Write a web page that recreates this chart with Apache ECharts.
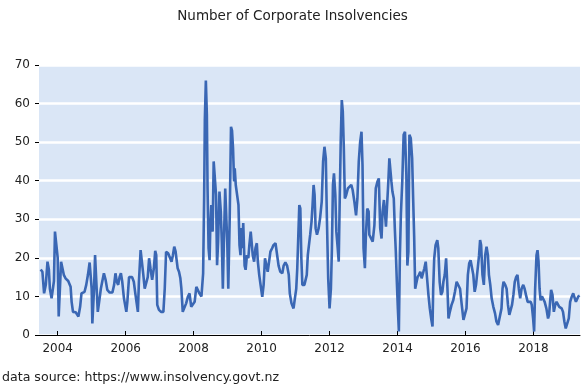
<!DOCTYPE html>
<html>
<head>
<meta charset="utf-8">
<script src="https://cdn.jsdelivr.net/npm/echarts@6/dist/echarts.min.js"></script>
<style>html,body{margin:0;padding:0;background:#fff}#c{width:585px;height:387px}</style>
</head>
<body>
<div id="c"></div>
<script>
var seg1Years = [2003.50,2003.55,2003.60,2003.65,2003.70,2003.74,2003.77,2003.82,2003.86,2003.89,
2003.92,2003.96,2004.00,2004.03,2004.06,2004.10,2004.14,2004.18,2004.23,2004.31,
2004.38,2004.41,2004.45,2004.53,2004.61,2004.66,2004.70,2004.74,2004.79,2004.84,
2004.89,2004.94,2004.97,2005.00,2005.02,2005.05,2005.07,2005.10,2005.13,2005.16,
2005.18,2005.22,2005.27,2005.31,2005.36,2005.41,2005.46,2005.53,2005.61,2005.66,
2005.70,2005.74,2005.78,2005.82,2005.86,2005.90,2005.95,2006.02,2006.05,2006.10,
2006.19,2006.24,2006.29,2006.36,2006.39,2006.44,2006.48,2006.52,2006.56,2006.60,
2006.65,2006.69,2006.73,2006.78,2006.83,2006.87,2006.90,2006.93,2006.98,2007.04,
2007.11,2007.15,2007.19,2007.25,2007.30,2007.35,2007.39,2007.43];
var seg1Counts = [17,16.4,10.8,13,19,17,12,9.5,9,14,
26.8,27,20,4.8,5,19,18.6,15.6,14.7,14,
12.5,8.6,6,5.9,4.8,7.3,10.8,10.4,11.2,13,
15.6,18.8,18.6,12,3,3,12,20.7,20.7,9.5,
6,8.6,12,13.8,16,14.3,11.7,11,11,13,
16,13.8,13,15,16,13.8,9.5,6,8.6,15,
15,13.8,10.4,6,13.8,22,21.6,15.6,12,12,
15,19.9,17.3,14.3,17.3,21.8,20.7,7.8,6.5,6,
6,12,21.6,21.2,20.7,19,20.7,22.9];

var seg2Years = [2007.47,2007.50,2007.53,2007.57,2007.61,2007.64,2007.68,2007.73,2007.78,2007.83,
2007.88,2007.93,2007.98,2008.03,2008.08,2008.12,2008.17,2008.23,2008.28,2008.31,
2008.33,2008.36,2008.39,2008.41,2008.44,2008.47,2008.49,2008.52,2008.56,2008.59,
2008.63,2008.66,2008.69,2008.72,2008.76,2008.80,2008.83,2008.86,2008.89,2008.93,
2008.96,2008.99,2009.02,2009.06,2009.10,2009.13,2009.16,2009.19,2009.21,2009.24,
2009.29,2009.32,2009.35,2009.38,2009.40,2009.43,2009.46,2009.50,2009.53,2009.57,
2009.61,2009.64,2009.68,2009.71,2009.74,2009.78,2009.82,2009.86,2009.89,2009.93,
2009.97,2010.02,2010.06,2010.10,2010.14,2010.18,2010.22,2010.26,2010.31,2010.35,
2010.41,2010.46,2010.50,2010.55,2010.61,2010.65,2010.70,2010.75,2010.80,2010.83,
2010.88,2010.94,2010.98,2011.02,2011.05,2011.08,2011.11,2011.14,2011.17,2011.20,
2011.26,2011.30,2011.33,2011.36];
var seg2Counts = [21.6,19.4,17.3,16.4,14.7,12,6,6.5,8.2,9.9,
10.8,7.3,7.3,8.6,12.5,13,10.8,10,16,35.9,
55.7,66,57,38,22.5,19.4,27.7,33.7,26.8,45,
45,36.3,18.1,24,37.2,32,24,12,24,38,
38,24,12,29.4,54,53,48.4,39.8,43.2,38.9,
38.9,33.7,23.3,20.7,27.7,22.5,29,18,16.9,20.7,
19.9,23.3,26.8,26.8,20.7,19,22.5,23.8,19,15.6,
13,9.9,13,19.9,19.9,16.4,16.4,21.6,22.5,23.3,
23.8,23.8,18,16.4,16,18,18.8,18,15.6,10.8,
8.2,6.9,9.5,12,17.3,25.5,33.7,32.8,19.9,13,
13,13,15.6,20.7];

var seg3Years = [2011.43,2011.47,2011.50,2011.53,2011.56,2011.59,2011.63,2011.68,2011.72,2011.77,
2011.81,2011.85,2011.89,2011.92,2011.96,2012.00,2012.04,2012.07,2012.10,2012.13,
2012.17,2012.20,2012.24,2012.27,2012.30,2012.33,2012.36,2012.39,2012.42,2012.45,
2012.49,2012.54,2012.59,2012.64,2012.68,2012.73,2012.78,2012.82,2012.86,2012.90,
2012.94,2012.97,2013.00,2013.04,2013.07,2013.11,2013.15,2013.17,2013.22,2013.27,
2013.32,2013.36,2013.41,2013.45,2013.49,2013.53,2013.56,2013.60,2013.63,2013.66,
2013.70,2013.73,2013.76,2013.79,2013.82,2013.85,2013.89,2013.92,2013.95,2013.98,
2014.01,2014.04,2014.07,2014.10,2014.14,2014.18,2014.22,2014.26,2014.29,2014.32,
2014.35,2014.39,2014.43,2014.46,2014.49,2014.52,2014.56,2014.59,2014.63,2014.67,
2014.71,2014.75,2014.79,2014.83,2014.87,2014.91,2014.95,2014.99,2015.03,2015.05,
2015.08,2015.12,2015.17,2015.20,2015.24,2015.28,2015.32];
var seg3Counts = [26,29.4,33.7,38.9,36.3,27.7,26,27.7,30.2,34.6,
45,48.8,45.8,31,14.7,6.9,12,22.5,38.9,41.9,
36.3,26.8,22.5,19,35.4,50.6,60.9,57.9,48.4,35.4,
36.3,38,38.5,38.9,37.6,34.6,31,35.4,45,50,
52.7,44,22.5,17.3,26,32.8,32,26,25.5,24.2,
28.5,38,39.8,40.6,27.7,25,32,35,34.6,28.1,
28.1,39.8,45.8,45.8,39.8,37.2,35.4,27.7,21.6,13.8,
6.9,0.9,20.7,31.5,39.8,51.9,52.7,41.5,18,21.6,
51.9,51,45.8,35.4,25.5,12,12,15,15.6,16.4,
14.7,15,17.3,19,14.7,10.4,6.9,4.3,2.2,12,
19.9,23.3,24.6,22.5,13.8,10.4,11.2];

var seg4Years = [2015.35,2015.39,2015.43,2015.47,2015.50,2015.54,2015.59,2015.64,2015.69,2015.74,
2015.79,2015.84,2015.89,2015.94,2015.99,2016.03,2016.07,2016.11,2016.15,2016.19,
2016.23,2016.27,2016.31,2016.36,2016.40,2016.43,2016.46,2016.50,2016.54,2016.58,
2016.62,2016.66,2016.69,2016.73,2016.77,2016.82,2016.87,2016.91,2016.96,2017.01,
2017.06,2017.09,2017.12,2017.17,2017.21,2017.25,2017.29,2017.34,2017.37,2017.41,
2017.45,2017.49,2017.53,2017.57,2017.61,2017.65,2017.70,2017.74,2017.78,2017.83,
2017.87,2017.92,2017.95,2017.99,2018.02,2018.05,2018.09,2018.12,2018.15,2018.18,
2018.21,2018.25,2018.29,2018.33,2018.38,2018.43,2018.46,2018.49,2018.52,2018.56,
2018.60,2018.64,2018.68,2018.72,2018.76,2018.79,2018.83,2018.87,2018.91,2018.95,
2019.00,2019.04,2019.08,2019.13,2019.17,2019.21,2019.25,2019.29,2019.32,2019.36];
var seg4Counts = [13.8,15.6,19.9,12,4.3,6,7.8,9,11.2,13.8,
13.4,12,7.8,3.9,3.9,6.9,15.6,18.6,19.4,19.9,
15.6,11.2,13,17.3,20.7,24.6,23.3,15.6,13,20.7,
22.9,20.7,15.6,13,9.5,7.3,5.6,3.5,2.6,2.2,
6.9,12,13.8,13,12,7.8,5.2,5.2,7.8,10.4,
13.8,15,15.6,12,9.5,12,13,12,10.4,8.6,
8.2,8.6,7.8,4.3,0.9,12,20.7,22,19,12,
9,10,9.5,8.6,6.9,4.3,5.2,8.6,11.7,10.4,
6,7.8,8.6,8.2,7.3,6.9,6.9,6,3.5,1.7,
1.3,4.3,8.6,10,10.8,10.4,8.6,9,10,10.2];

var xTickYears = [2004, 2006, 2008, 2010, 2012, 2014, 2016, 2018];
var yTicks = [0, 10, 20, 30, 40, 50, 60, 70];
var titleText = 'Number of Corporate Insolvencies';
var sourceText = 'data source: https://www.insolvency.govt.nz';

var years = seg1Years.concat(seg2Years, seg3Years, seg4Years);
var counts = seg1Counts.concat(seg2Counts, seg3Counts, seg4Counts);
var data = years.map(function (y, i) { return [y, counts[i]]; });

var FONT = 'DejaVu Sans';
var chart = echarts.init(document.getElementById('c'), null, {renderer: 'canvas'});
chart.setOption({
  animation: false,
  backgroundColor: '#ffffff',
  title: {
    text: titleText, left: 'center', top: 4,
    textStyle: {fontFamily: FONT, fontSize: 13.5, fontWeight: 'normal', color: '#222'}
  },
  graphic: [{
    type: 'text', left: 2, top: 371,
    style: {text: sourceText, font: '12.6px "DejaVu Sans"', fill: '#222'}
  }],
  grid: {
    left: 39, right: 5, top: 65, bottom: 52,
    show: true, backgroundColor: '#dae6f6', borderWidth: 0
  },
  xAxis: {
    type: 'value', min: 2003.45, max: 2019.37,
    axisLine: {show: true, lineStyle: {color: '#000', width: 1}},
    axisTick: {show: true, inside: true, length: 4, customValues: xTickYears, lineStyle: {color: '#000'}},
    axisLabel: {customValues: xTickYears, margin: 8, fontFamily: FONT, fontSize: 12, color: '#222',
      formatter: function (v) { return String(Math.round(v)); }},
    splitLine: {show: false}
  },
  yAxis: {
    type: 'value', min: yTicks[0], max: yTicks[yTicks.length - 1], interval: 10,
    axisLine: {show: false},
    axisTick: {show: true, inside: false, length: 4, lineStyle: {color: '#000'}},
    axisLabel: {margin: 9, fontFamily: FONT, fontSize: 12, color: '#222'},
    splitLine: {show: true, lineStyle: {color: '#ffffff', width: 2.5}}
  },
  series: [{
    type: 'line', data: data, showSymbol: false, symbol: 'none',
    lineStyle: {color: '#3a67b4', width: 2.6},
    clip: true
  }]
});
</script>
</body>
</html>
